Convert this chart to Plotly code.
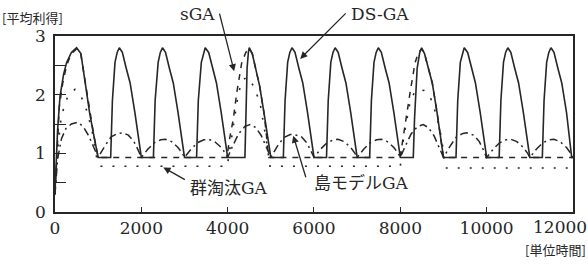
import plotly.graph_objects as go

# ---------------- data ----------------
x_ticks = [0, 2000, 4000, 6000, 8000, 10000, 12000]
x_ticktext = ["0", "2000", "4000", "6000", "8000", "10000", ""]
last_x_label = "12000"   # drawn separately so it stays inside the picture
y_tickvals = [0, 0.5, 1, 1.5, 2, 2.5, 3]
y_ticktext = ["0", "", "1", "", "2", "", "3"]

# DS-GA (solid)
ds_t = [0, 30, 60, 116, 200, 270, 380, 500, 600, 700, 800, 900, 1000,
        1290, 1330, 1390, 1440, 1490, 1560, 1650, 1740, 1850, 2000,
        2280, 2320, 2390, 2440, 2490, 2560, 2650, 2740, 2850, 3000,
        3280, 3320, 3390, 3440, 3480, 3560, 3650, 3740, 3850, 4000,
        4400, 4420, 4450, 4480, 4500, 4570, 4650, 4740, 4850, 5000,
        5290, 5330, 5390, 5440, 5490, 5560, 5650, 5740, 5850, 6000,
        6290, 6330, 6390, 6440, 6490, 6560, 6650, 6740, 6850, 7000,
        7290, 7330, 7390, 7440, 7490, 7560, 7650, 7740, 7850, 8000,
        8300, 8330, 8390, 8450, 8494, 8560, 8650, 8740, 8850, 9000,
        9290, 9330, 9390, 9440, 9480, 9560, 9650, 9740, 9850, 10000,
        10290, 10330, 10390, 10440, 10490, 10560, 10650, 10740, 10850, 11000,
        11290, 11330, 11390, 11440, 11490, 11560, 11650, 11740, 11850, 11970, 12000]
ds_v = [0.35, 0.9, 1.4, 1.97, 2.35, 2.55, 2.72, 2.8, 2.7, 2.2, 1.7, 1.3, 0.93,
        0.93, 1.9, 2.55, 2.72, 2.8, 2.72, 2.45, 2.2, 1.7, 0.93,
        0.93, 1.9, 2.55, 2.72, 2.8, 2.72, 2.45, 2.2, 1.7, 0.93,
        0.93, 1.9, 2.55, 2.72, 2.8, 2.72, 2.45, 2.2, 1.7, 0.93,
        0.93, 1.6, 2.45, 2.72, 2.8, 2.7, 2.45, 2.15, 1.65, 0.93,
        0.93, 1.9, 2.55, 2.72, 2.8, 2.72, 2.45, 2.2, 1.7, 0.93,
        0.93, 1.9, 2.55, 2.72, 2.8, 2.72, 2.45, 2.2, 1.7, 0.93,
        0.93, 1.9, 2.55, 2.72, 2.8, 2.72, 2.45, 2.2, 1.7, 0.93,
        0.93, 1.6, 2.45, 2.72, 2.8, 2.7, 2.45, 2.2, 1.7, 0.93,
        0.93, 1.9, 2.55, 2.72, 2.8, 2.72, 2.45, 2.2, 1.7, 0.93,
        0.93, 1.9, 2.55, 2.72, 2.8, 2.72, 2.45, 2.2, 1.7, 0.93,
        0.93, 1.9, 2.55, 2.72, 2.8, 2.72, 2.45, 2.2, 1.7, 0.93, 0.93]

# sGA (dashed)
sga_t = [0, 40, 100, 180, 270, 380, 500, 600, 700, 800, 900, 1000,
         3980, 4055, 4130, 4210, 4325, 4420, 4500, 4570, 4650, 4740, 4850, 4950,
         7995, 8110, 8225, 8340, 8420, 8494, 8560, 8650, 8740, 8850, 9000, 12000]
sga_v = [0.3, 1.0, 1.8, 2.2, 2.5, 2.7, 2.78, 2.68, 2.2, 1.7, 1.3, 0.93,
         0.93, 1.29, 1.58, 2.03, 2.54, 2.72, 2.78, 2.7, 2.45, 2.15, 1.65, 0.93,
         0.93, 1.52, 2.03, 2.54, 2.72, 2.78, 2.7, 2.45, 2.2, 1.7, 0.93, 0.93]

# 群淘汰GA (dotted)
grp_t = [0, 50, 150, 300, 463, 600, 750, 888, 980, 1050,
         3990, 4093, 4170, 4250, 4350, 4450, 4600, 4750, 4830, 4905, 4980,
         8000, 8070, 8150, 8225, 8320, 8420, 8550, 8690, 8845, 8960, 9040, 12000]
grp_v = [0.3, 1.0, 1.65, 1.98, 2.09, 1.98, 1.7, 1.29, 0.85, 0.78,
         0.78, 1.24, 1.65, 2.03, 2.25, 2.3, 2.15, 1.86, 1.52, 1.18, 0.78,
         0.78, 1.24, 1.58, 1.87, 2.03, 2.09, 2.07, 1.97, 1.63, 1.24, 0.75, 0.75]

# 島モデルGA (dash-dot)
isl_t = [0, 60, 150, 250, 380, 520, 650, 780, 900, 1000,
         1150, 1300, 1450, 1575, 1700, 1830, 1930, 2000,
         2150, 2300, 2450, 2560, 2700, 2850, 2950, 3000,
         3150, 3300, 3450, 3560, 3700, 3850, 3950, 4000,
         4100, 4250, 4400, 4520, 4650, 4780, 4900, 5000,
         5150, 5300, 5450, 5515, 5700, 5830, 5930, 6000,
         6150, 6300, 6450, 6560, 6700, 6850, 6950, 7000,
         7150, 7300, 7450, 7560, 7700, 7850, 7950, 8000,
         8100, 8250, 8400, 8530, 8650, 8780, 8900, 9000,
         9150, 9300, 9450, 9540, 9700, 9830, 9930, 10000,
         10150, 10300, 10450, 10560, 10700, 10850, 10950, 11000,
         11150, 11300, 11450, 11560, 11700, 11850, 11950, 12000]
isl_v = [0.3, 0.9, 1.25, 1.42, 1.5, 1.53, 1.46, 1.3, 1.1, 0.93,
         1.12, 1.28, 1.34, 1.35, 1.31, 1.2, 1.05, 0.93,
         1.07, 1.18, 1.23, 1.24, 1.2, 1.1, 1.0, 0.93,
         1.07, 1.18, 1.23, 1.24, 1.2, 1.1, 1.0, 0.93,
         1.1, 1.33, 1.46, 1.49, 1.44, 1.3, 1.1, 0.93,
         1.12, 1.27, 1.32, 1.32, 1.29, 1.18, 1.04, 0.93,
         1.07, 1.18, 1.23, 1.24, 1.2, 1.1, 1.0, 0.93,
         1.07, 1.18, 1.23, 1.24, 1.2, 1.1, 1.0, 0.93,
         1.1, 1.33, 1.46, 1.49, 1.44, 1.3, 1.1, 0.93,
         1.12, 1.28, 1.34, 1.35, 1.31, 1.2, 1.05, 0.93,
         1.07, 1.18, 1.23, 1.24, 1.2, 1.1, 1.0, 0.93,
         1.07, 1.18, 1.23, 1.24, 1.2, 1.1, 1.0, 0.93]

# ---------------- figure ----------------
INK = "#262626"
LAT = "DejaVu Serif, Noto Sans CJK JP"
JP = "Noto Sans CJK JP"

fig = go.Figure()
fig.add_trace(go.Scatter(x=grp_t, y=grp_v, mode="lines",
                         line=dict(color=INK, width=1.6, dash="2px,10px")))
fig.add_trace(go.Scatter(x=isl_t, y=isl_v, mode="lines",
                         line=dict(color=INK, width=1.5, dash="8px,4px,2px,4px")))
fig.add_trace(go.Scatter(x=sga_t, y=sga_v, mode="lines",
                         line=dict(color=INK, width=1.5, dash="6px,6px")))
fig.add_trace(go.Scatter(x=ds_t, y=ds_v, mode="lines",
                         line=dict(color=INK, width=1.6)))

def arrow(x, y, ax, ay):
    fig.add_annotation(x=x, y=y, xref="x", yref="y", ax=ax, ay=ay,
                       text="", showarrow=True, arrowhead=2, arrowsize=1.1,
                       arrowwidth=1.3, arrowcolor=INK, standoff=0)

arrow(4150, 2.40, -15, -59)   # sGA
arrow(5680, 2.61, 47, -47)    # DS-GA
arrow(2510, 0.76, 23, 13)     # 群淘汰GA
arrow(5520, 1.30, 13, 43)     # 島モデルGA

def label(text, x, y, size, family, xanchor="center"):
    fig.add_annotation(x=x, y=y, xref="paper", yref="paper", text=text,
                       showarrow=False, xanchor=xanchor, yanchor="middle",
                       font=dict(family=family, size=size, color=INK))

# paper coords: plot spans x 55..573 px, y 36..212 px
def px(xp):
    return (xp - 55) / 518.0

def py(yp):
    return (212 - yp) / 176.0

label("sGA", px(197), py(14), 17, LAT)
label("DS-GA", px(380), py(14), 17, LAT)
label("群淘汰GA", px(229), py(188), 17, LAT)
label("島モデルGA", px(361), py(183), 17, LAT)
label("[平均利得]", px(0), py(17), 13, JP, xanchor="left")
label("[単位時間]", px(588), py(249), 13, JP, xanchor="right")

# last x tick label, kept inside the right edge
fig.add_annotation(x=px(588), y=0, xref="paper", yref="paper",
                   text=last_x_label, showarrow=False, xanchor="right",
                   yanchor="top", yshift=-4, borderpad=0,
                   font=dict(family=LAT, size=17, color=INK))

fig.update_layout(
    width=588, height=276,
    margin=dict(l=55, r=15, t=36, b=64, autoexpand=False),
    paper_bgcolor="white", plot_bgcolor="white",
    showlegend=False,
    font=dict(family=LAT, size=17, color=INK),
    xaxis=dict(range=[0, 12000.5], tickvals=x_ticks, ticktext=x_ticktext,
               ticks="inside", ticklen=5, ticklabeloverflow="allow",
               automargin=False,
               tickwidth=1.3, tickcolor=INK, showline=True, mirror=True,
               linecolor=INK, linewidth=1.5, showgrid=False, zeroline=False,
               tickfont=dict(family=LAT, size=17, color=INK)),
    yaxis=dict(range=[0, 3], tickvals=y_tickvals, ticktext=y_ticktext,
               ticks="inside", ticklen=11, tickwidth=1.3, tickcolor=INK,
               showline=True, mirror=True, linecolor=INK, linewidth=1.5,
               showgrid=False, zeroline=False, ticklabelstandoff=4,
               automargin=False,
               tickfont=dict(family=LAT, size=17, color=INK)),
)

fig.write_html("out.html")
